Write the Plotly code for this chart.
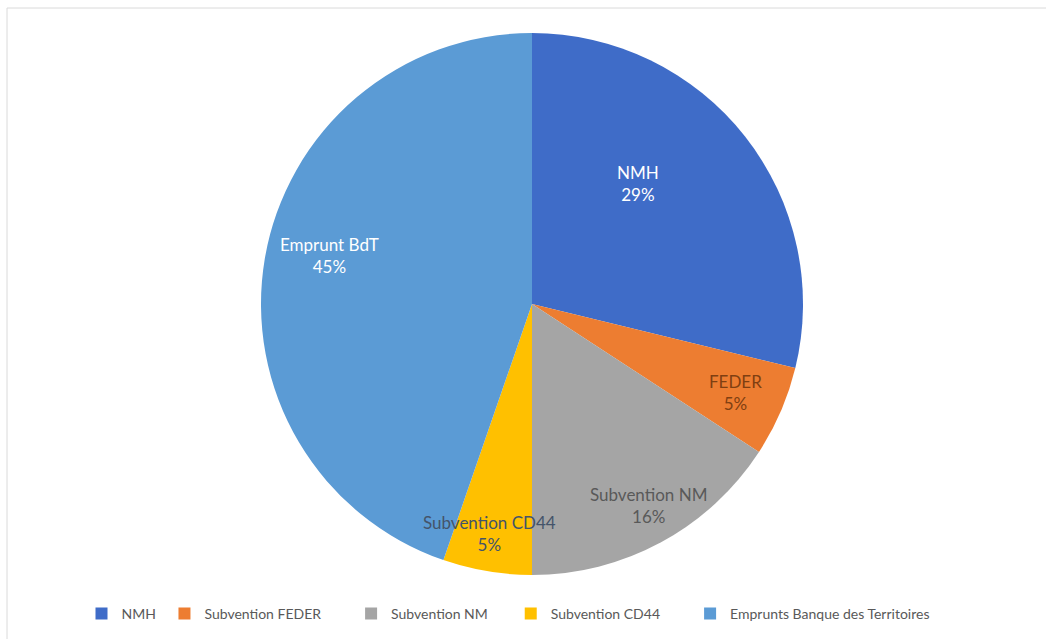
import math
import plotly.graph_objects as go

# ---- data ----
legend_labels = ["NMH", "Subvention FEDER", "Subvention NM", "Subvention CD44",
                 "Emprunts Banque des Territoires"]
slice_labels = ["NMH", "FEDER", "Subvention NM", "Subvention CD44", "Emprunt BdT"]
shares = [28.8, 5.4, 15.8, 5.3, 44.7]

# ---- style ----
colors = ["#3F6CC8", "#ED7D31", "#A5A5A5", "#FFC000", "#5B9BD5"]
label_colors = ["#FFFFFF", "#7F3F12", "#595959", "#44546A", "#FFFFFF"]
label_radius = [0.59, 0.82, 0.86, 0.86, 0.77]   # fraction of pie radius
label_angle_nudge = [-10.5, 0, -1.5, 1, 4]        # degrees
legend_pad = [1, 7, 5, 7, 0]                      # extra spacing after legend entries

W, H = 1046, 639
cx, cy, R = 532, 304, 271   # pixel centre / radius of the pie

dom_x = [(cx - R) / W, (cx + R) / W]
dom_y = [1 - (cy + R) / H, 1 - (cy - R) / H]

FONT = "Lato, Carlito, Calibri, sans-serif"

legend_text = [lab + "\u00a0" * p for lab, p in zip(legend_labels, legend_pad)]

fig = go.Figure(go.Pie(
    labels=legend_text,
    values=shares,
    sort=False,
    direction="clockwise",
    rotation=0,
    marker=dict(colors=colors, line=dict(width=0)),
    textinfo="none",
    hoverinfo="label+percent",
    domain=dict(x=dom_x, y=dom_y),
))

total = sum(shares)
annotations = []
cum = 0.0
for i, v in enumerate(shares):
    mid = (cum + v / 2) / total * 360 + label_angle_nudge[i]
    cum += v
    r = R * label_radius[i]
    px = cx + r * math.sin(math.radians(mid))
    py = cy - r * math.cos(math.radians(mid))
    pct = round(v / total * 100)
    annotations.append(dict(
        x=px / W, y=1 - py / H, xref="paper", yref="paper",
        xanchor="center", yanchor="middle",
        text=f"{slice_labels[i]}<br>{pct}%",
        showarrow=False, align="center",
        font=dict(family=FONT, size=17, color=label_colors[i]),
    ))

fig.update_layout(
    width=W, height=H,
    margin=dict(l=0, r=0, t=0, b=0),
    paper_bgcolor="white",
    plot_bgcolor="white",
    annotations=annotations,
    showlegend=True,
    legend=dict(
        orientation="h",
        x=508 / W, xanchor="center",
        y=1 - 614 / H, yanchor="middle",
        font=dict(family=FONT, size=14, color="#595959"),
        itemwidth=30,
        traceorder="normal",
    ),
    shapes=[
        dict(type="line", xref="paper", yref="paper",
             x0=7 / W, x1=1, y0=1 - 8 / H, y1=1 - 8 / H,
             line=dict(color="#DADADA", width=1)),
        dict(type="line", xref="paper", yref="paper",
             x0=7 / W, x1=7 / W, y0=0, y1=1 - 8 / H,
             line=dict(color="#DADADA", width=1)),
    ],
)

fig.write_html("out.html")
